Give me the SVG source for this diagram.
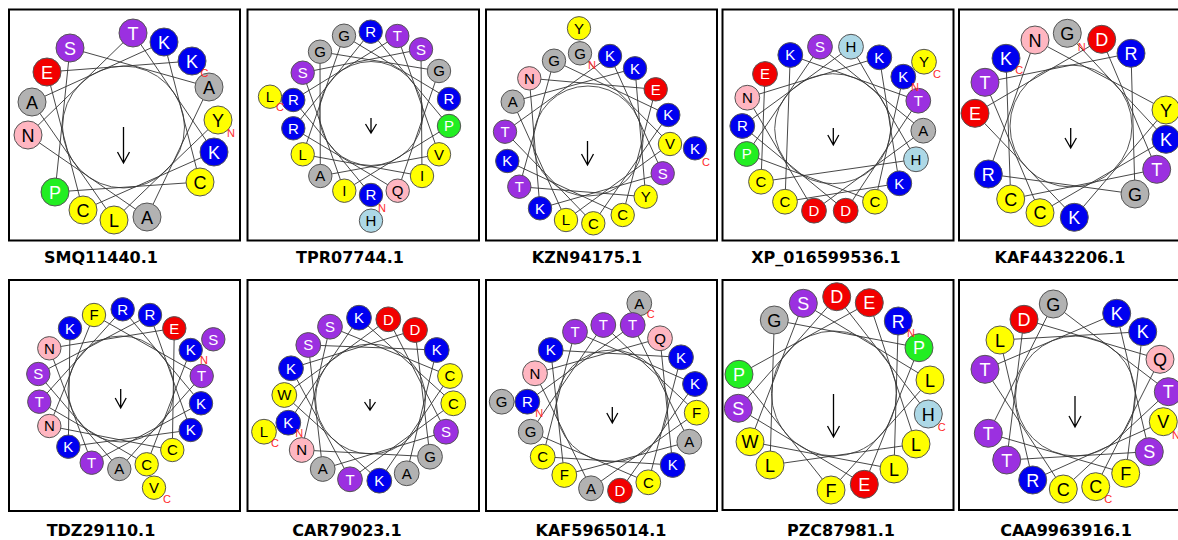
<svg xmlns="http://www.w3.org/2000/svg" width="1178" height="540" viewBox="0 0 1178 540">
<style>
.frame{fill:none;stroke:#000;stroke-width:2}
.ring{fill:none;stroke:#555;stroke-width:1}
.links line{stroke:#333;stroke-width:0.9}
.arrow{fill:none;stroke:#000;stroke-width:1.3}
.res circle{stroke:#555;stroke-width:1}
.res text{font-family:"Liberation Sans",Arial,sans-serif;font-size:18px;text-anchor:middle}
.sm .res text{font-size:15px}
.y circle{fill:#ffff00}.y text{fill:#000}
.b circle{fill:#0000f0}.b text{fill:#fff}
.r circle{fill:#f20000}.r text{fill:#fff}
.p circle{fill:#9b30e0}.p text{fill:#fff}
.g circle{fill:#b2b2b2}.g text{fill:#000}
.k circle{fill:#ffb6c1}.k text{fill:#000}
.n circle{fill:#22ee22}.n text{fill:#fff}
.l circle{fill:#add8e6}.l text{fill:#000}
.term{font-family:"Liberation Sans",Arial,sans-serif;font-size:11px;fill:#ff2a2a;text-anchor:middle}
.cap{font-family:"DejaVu Sans",Verdana,sans-serif;font-weight:bold;font-size:16px;text-anchor:middle;fill:#000}
</style>
<rect width="1178" height="540" fill="#fff"/>

<!-- SMQ11440.1 -->
<g id="SMQ11440">
<rect class="frame" x="9" y="9.5" width="231" height="231"/>
<circle class="ring" cx="123.5" cy="127" r="61"/>
<g id="SMQ11440-links" class="links">
<line x1="218" y1="120" x2="114" y2="220"/><line x1="114" y1="220" x2="32" y2="102"/><line x1="32" y1="102" x2="164" y2="42"/><line x1="164" y1="42" x2="200" y2="182"/><line x1="200" y1="182" x2="55" y2="192"/><line x1="55" y1="192" x2="70" y2="48"/><line x1="70" y1="48" x2="209" y2="87"/><line x1="209" y1="87" x2="147" y2="217"/><line x1="147" y1="217" x2="28" y2="135"/><line x1="28" y1="135" x2="133" y2="33"/><line x1="133" y1="33" x2="214" y2="152"/><line x1="214" y1="152" x2="83" y2="210"/><line x1="83" y1="210" x2="47" y2="72"/><line x1="47" y1="72" x2="192" y2="61"/>
</g>
<path class="arrow" d="M123.5 127V163M117.5 152L123.5 163L129.5 152"/>
<g id="SMQ11440-r0" class="res y" transform="translate(218 120)"><circle r="14"/><text y="6.5">Y</text></g>
<g id="SMQ11440-r1" class="res y" transform="translate(114 220)"><circle r="14"/><text y="6.5">L</text></g>
<g id="SMQ11440-r2" class="res g" transform="translate(32 102)"><circle r="14"/><text y="6.5">A</text></g>
<g id="SMQ11440-r3" class="res b" transform="translate(164 42)"><circle r="14"/><text y="6.5">K</text></g>
<g id="SMQ11440-r4" class="res y" transform="translate(200 182)"><circle r="14"/><text y="6.5">C</text></g>
<g id="SMQ11440-r5" class="res n" transform="translate(55 192)"><circle r="14"/><text y="6.5">P</text></g>
<g id="SMQ11440-r6" class="res p" transform="translate(70 48)"><circle r="14"/><text y="6.5">S</text></g>
<g id="SMQ11440-r7" class="res g" transform="translate(209 87)"><circle r="14"/><text y="6.5">A</text></g>
<g id="SMQ11440-r8" class="res g" transform="translate(147 217)"><circle r="14"/><text y="6.5">A</text></g>
<g id="SMQ11440-r9" class="res k" transform="translate(28 135)"><circle r="14"/><text y="6.5">N</text></g>
<g id="SMQ11440-r10" class="res p" transform="translate(133 33)"><circle r="14"/><text y="6.5">T</text></g>
<g id="SMQ11440-r11" class="res b" transform="translate(214 152)"><circle r="14"/><text y="6.5">K</text></g>
<g id="SMQ11440-r12" class="res y" transform="translate(83 210)"><circle r="14"/><text y="6.5">C</text></g>
<g id="SMQ11440-r13" class="res r" transform="translate(47 72)"><circle r="14"/><text y="6.5">E</text></g>
<g id="SMQ11440-r14" class="res b" transform="translate(192 61)"><circle r="14"/><text y="6.5">K</text></g>
<text class="term" x="231" y="137">N</text><text class="term" x="204.5" y="77">C</text>
<text class="cap" x="101" y="263">SMQ11440.1</text>
</g>

<!-- TPR07744.1 -->
<g id="TPR07744" class="sm">
<rect class="frame" x="247.5" y="9.5" width="231.5" height="231"/>
<circle class="ring" cx="371" cy="113.5" r="52"/>
<g id="TPR07744-links" class="links">
<line x1="371" y1="195" x2="293.3" y2="100"/><line x1="293.3" y1="100" x2="397.3" y2="36"/><line x1="397.3" y1="36" x2="439" y2="154.3"/><line x1="439" y1="154.3" x2="320.3" y2="176"/><line x1="320.3" y1="176" x2="320" y2="51.7"/><line x1="320" y1="51.7" x2="439" y2="71"/><line x1="439" y1="71" x2="397.7" y2="190.7"/><line x1="397.7" y1="190.7" x2="293.3" y2="128.3"/><line x1="293.3" y1="128.3" x2="370.7" y2="31.7"/><line x1="370.7" y1="31.7" x2="449" y2="126"/><line x1="449" y1="126" x2="344.3" y2="190.7"/><line x1="344.3" y1="190.7" x2="302.7" y2="72.7"/><line x1="302.7" y1="72.7" x2="421" y2="49.3"/><line x1="421" y1="49.3" x2="422" y2="176"/><line x1="422" y1="176" x2="302.7" y2="154.3"/><line x1="302.7" y1="154.3" x2="344" y2="35.7"/><line x1="344" y1="35.7" x2="449" y2="99"/>
</g>
<path class="arrow" d="M371 118V133M365.5 124L371 133L376.5 124"/>
<g id="TPR07744-r18" class="res l" transform="translate(371 220.7)"><circle r="11.7"/><text y="5.3">H</text></g>
<g id="TPR07744-r19" class="res y" transform="translate(270 96.7)"><circle r="11.7"/><text y="5.3">L</text></g>
<g id="TPR07744-r0" class="res b" transform="translate(371 195)"><circle r="11.7"/><text y="5.3">R</text></g>
<g id="TPR07744-r1" class="res b" transform="translate(293.3 100)"><circle r="11.7"/><text y="5.3">R</text></g>
<g id="TPR07744-r2" class="res p" transform="translate(397.3 36)"><circle r="11.7"/><text y="5.3">T</text></g>
<g id="TPR07744-r3" class="res y" transform="translate(439 154.3)"><circle r="11.7"/><text y="5.3">V</text></g>
<g id="TPR07744-r4" class="res g" transform="translate(320.3 176)"><circle r="11.7"/><text y="5.3">A</text></g>
<g id="TPR07744-r5" class="res g" transform="translate(320 51.7)"><circle r="11.7"/><text y="5.3">G</text></g>
<g id="TPR07744-r6" class="res g" transform="translate(439 71)"><circle r="11.7"/><text y="5.3">G</text></g>
<g id="TPR07744-r7" class="res k" transform="translate(397.7 190.7)"><circle r="11.7"/><text y="5.3">Q</text></g>
<g id="TPR07744-r8" class="res b" transform="translate(293.3 128.3)"><circle r="11.7"/><text y="5.3">R</text></g>
<g id="TPR07744-r9" class="res b" transform="translate(370.7 31.7)"><circle r="11.7"/><text y="5.3">R</text></g>
<g id="TPR07744-r10" class="res n" transform="translate(449 126)"><circle r="11.7"/><text y="5.3">P</text></g>
<g id="TPR07744-r11" class="res y" transform="translate(344.3 190.7)"><circle r="11.7"/><text y="5.3">I</text></g>
<g id="TPR07744-r12" class="res p" transform="translate(302.7 72.7)"><circle r="11.7"/><text y="5.3">S</text></g>
<g id="TPR07744-r13" class="res p" transform="translate(421 49.3)"><circle r="11.7"/><text y="5.3">S</text></g>
<g id="TPR07744-r14" class="res y" transform="translate(422 176)"><circle r="11.7"/><text y="5.3">I</text></g>
<g id="TPR07744-r15" class="res y" transform="translate(302.7 154.3)"><circle r="11.7"/><text y="5.3">L</text></g>
<g id="TPR07744-r16" class="res g" transform="translate(344 35.7)"><circle r="11.7"/><text y="5.3">G</text></g>
<g id="TPR07744-r17" class="res b" transform="translate(449 99)"><circle r="11.7"/><text y="5.3">R</text></g>
<text class="term" x="382" y="212">N</text><text class="term" x="280" y="111">C</text>
<text class="cap" x="350" y="263">TPR07744.1</text>
</g>

<!-- KZN94175.1 -->
<g id="KZN94175" class="sm">
<rect class="frame" x="486" y="9.5" width="231" height="231"/>
<circle class="ring" cx="588" cy="141" r="55"/>
<g id="KZN94175-links" class="links">
<line x1="580" y1="53.3" x2="670" y2="144"/><line x1="670" y1="144" x2="566" y2="220"/><line x1="566" y1="220" x2="512.7" y2="101.7"/><line x1="512.7" y1="101.7" x2="635" y2="68.3"/><line x1="635" y1="68.3" x2="645.7" y2="196.7"/><line x1="645.7" y1="196.7" x2="519.3" y2="186.7"/><line x1="519.3" y1="186.7" x2="554" y2="60.7"/><line x1="554" y1="60.7" x2="668.3" y2="115"/><line x1="668.3" y1="115" x2="593.3" y2="223.3"/><line x1="593.3" y1="223.3" x2="505" y2="131.7"/><line x1="505" y1="131.7" x2="610" y2="56"/><line x1="610" y1="56" x2="662.7" y2="173.3"/><line x1="662.7" y1="173.3" x2="540" y2="208.3"/><line x1="540" y1="208.3" x2="529.3" y2="78.3"/><line x1="529.3" y1="78.3" x2="655.7" y2="89.3"/><line x1="655.7" y1="89.3" x2="622.7" y2="215"/><line x1="622.7" y1="215" x2="507.3" y2="161"/>
</g>
<path class="arrow" d="M587.5 141V165M581.5 154L587.5 165L593.5 154"/>
<g id="KZN94175-r18" class="res y" transform="translate(579 28.3)"><circle r="11.7"/><text y="5.3">Y</text></g>
<g id="KZN94175-r19" class="res b" transform="translate(695 148.3)"><circle r="11.7"/><text y="5.3">K</text></g>
<g id="KZN94175-r0" class="res g" transform="translate(580 53.3)"><circle r="11.7"/><text y="5.3">G</text></g>
<g id="KZN94175-r1" class="res y" transform="translate(670 144)"><circle r="11.7"/><text y="5.3">V</text></g>
<g id="KZN94175-r2" class="res y" transform="translate(566 220)"><circle r="11.7"/><text y="5.3">L</text></g>
<g id="KZN94175-r3" class="res g" transform="translate(512.7 101.7)"><circle r="11.7"/><text y="5.3">A</text></g>
<g id="KZN94175-r4" class="res b" transform="translate(635 68.3)"><circle r="11.7"/><text y="5.3">K</text></g>
<g id="KZN94175-r5" class="res y" transform="translate(645.7 196.7)"><circle r="11.7"/><text y="5.3">Y</text></g>
<g id="KZN94175-r6" class="res p" transform="translate(519.3 186.7)"><circle r="11.7"/><text y="5.3">T</text></g>
<g id="KZN94175-r7" class="res g" transform="translate(554 60.7)"><circle r="11.7"/><text y="5.3">G</text></g>
<g id="KZN94175-r8" class="res b" transform="translate(668.3 115)"><circle r="11.7"/><text y="5.3">K</text></g>
<g id="KZN94175-r9" class="res y" transform="translate(593.3 223.3)"><circle r="11.7"/><text y="5.3">C</text></g>
<g id="KZN94175-r10" class="res p" transform="translate(505 131.7)"><circle r="11.7"/><text y="5.3">T</text></g>
<g id="KZN94175-r11" class="res b" transform="translate(610 56)"><circle r="11.7"/><text y="5.3">K</text></g>
<g id="KZN94175-r12" class="res p" transform="translate(662.7 173.3)"><circle r="11.7"/><text y="5.3">S</text></g>
<g id="KZN94175-r13" class="res b" transform="translate(540 208.3)"><circle r="11.7"/><text y="5.3">K</text></g>
<g id="KZN94175-r14" class="res k" transform="translate(529.3 78.3)"><circle r="11.7"/><text y="5.3">N</text></g>
<g id="KZN94175-r15" class="res r" transform="translate(655.7 89.3)"><circle r="11.7"/><text y="5.3">E</text></g>
<g id="KZN94175-r16" class="res y" transform="translate(622.7 215)"><circle r="11.7"/><text y="5.3">C</text></g>
<g id="KZN94175-r17" class="res b" transform="translate(507.3 161)"><circle r="11.7"/><text y="5.3">K</text></g>
<text class="term" x="592" y="69">N</text><text class="term" x="706" y="166">C</text>
<text class="cap" x="587" y="263">KZN94175.1</text>
</g>

<!-- XP_016599536.1 -->
<g id="XP_016599536" class="sm">
<rect class="frame" x="722.5" y="9.5" width="231" height="231"/>
<ellipse class="ring" cx="832.7" cy="128.7" rx="58" ry="55"/>
<g id="XP_016599536-links" class="links">
<line x1="903.3" y1="76.7" x2="875" y2="201.7"/><line x1="875" y1="201.7" x2="746.7" y2="154"/><line x1="746.7" y1="154" x2="820" y2="46.7"/><line x1="820" y1="46.7" x2="923.3" y2="130.7"/><line x1="923.3" y1="130.7" x2="814" y2="210.7"/><line x1="814" y1="210.7" x2="747.3" y2="97.7"/><line x1="747.3" y1="97.7" x2="879.3" y2="57.3"/><line x1="879.3" y1="57.3" x2="899.3" y2="183.3"/><line x1="899.3" y1="183.3" x2="785" y2="201.7"/><line x1="785" y1="201.7" x2="790.3" y2="55"/><line x1="790.3" y1="55" x2="918.3" y2="100.7"/><line x1="918.3" y1="100.7" x2="845.7" y2="210.7"/><line x1="845.7" y1="210.7" x2="742.3" y2="126"/><line x1="742.3" y1="126" x2="851" y2="46.7"/><line x1="851" y1="46.7" x2="916" y2="159.3"/><line x1="916" y1="159.3" x2="761" y2="181.7"/><line x1="761" y1="181.7" x2="765" y2="74"/>
</g>
<path class="arrow" d="M833.3 128V145M827.8 135L833.3 145L838.8 135"/>
<g id="XP_016599536-r18" class="res y" transform="translate(924 61.7)"><circle r="12.4"/><text y="5.4">Y</text></g>
<g id="XP_016599536-r0" class="res b" transform="translate(903.3 76.7)"><circle r="12.4"/><text y="5.4">K</text></g>
<g id="XP_016599536-r1" class="res y" transform="translate(875 201.7)"><circle r="12.4"/><text y="5.4">C</text></g>
<g id="XP_016599536-r2" class="res n" transform="translate(746.7 154)"><circle r="12.4"/><text y="5.4">P</text></g>
<g id="XP_016599536-r3" class="res p" transform="translate(820 46.7)"><circle r="12.4"/><text y="5.4">S</text></g>
<g id="XP_016599536-r4" class="res g" transform="translate(923.3 130.7)"><circle r="12.4"/><text y="5.4">A</text></g>
<g id="XP_016599536-r5" class="res r" transform="translate(814 210.7)"><circle r="12.4"/><text y="5.4">D</text></g>
<g id="XP_016599536-r6" class="res k" transform="translate(747.3 97.7)"><circle r="12.4"/><text y="5.4">N</text></g>
<g id="XP_016599536-r7" class="res b" transform="translate(879.3 57.3)"><circle r="12.4"/><text y="5.4">K</text></g>
<g id="XP_016599536-r8" class="res b" transform="translate(899.3 183.3)"><circle r="12.4"/><text y="5.4">K</text></g>
<g id="XP_016599536-r9" class="res y" transform="translate(785 201.7)"><circle r="12.4"/><text y="5.4">C</text></g>
<g id="XP_016599536-r10" class="res b" transform="translate(790.3 55)"><circle r="12.4"/><text y="5.4">K</text></g>
<g id="XP_016599536-r11" class="res p" transform="translate(918.3 100.7)"><circle r="12.4"/><text y="5.4">T</text></g>
<g id="XP_016599536-r12" class="res r" transform="translate(845.7 210.7)"><circle r="12.4"/><text y="5.4">D</text></g>
<g id="XP_016599536-r13" class="res b" transform="translate(742.3 126)"><circle r="12.4"/><text y="5.4">R</text></g>
<g id="XP_016599536-r14" class="res l" transform="translate(851 46.7)"><circle r="12.4"/><text y="5.4">H</text></g>
<g id="XP_016599536-r15" class="res l" transform="translate(916 159.3)"><circle r="12.4"/><text y="5.4">H</text></g>
<g id="XP_016599536-r16" class="res y" transform="translate(761 181.7)"><circle r="12.4"/><text y="5.4">C</text></g>
<g id="XP_016599536-r17" class="res r" transform="translate(765 74)"><circle r="12.4"/><text y="5.4">E</text></g>
<text class="term" x="915" y="91">N</text><text class="term" x="937" y="78">C</text>
<text class="cap" x="826" y="263">XP_016599536.1</text>
</g>

<!-- KAF4432206.1 -->
<g id="KAF4432206">
<rect class="frame" x="959" y="9.5" width="231" height="231"/>
<circle class="ring" cx="1071" cy="126" r="61"/>
<g id="KAF4432206-links" class="links">
<line x1="1067.3" y1="33.3" x2="1166" y2="139.3"/><line x1="1166" y1="139.3" x2="1040" y2="212.7"/><line x1="1040" y1="212.7" x2="985" y2="82.3"/><line x1="985" y1="82.3" x2="1131" y2="53.3"/><line x1="1131" y1="53.3" x2="1135" y2="194"/><line x1="1135" y1="194" x2="988.3" y2="174"/><line x1="988.3" y1="174" x2="1035" y2="40"/><line x1="1035" y1="40" x2="1166" y2="110"/><line x1="1166" y1="110" x2="1074.3" y2="217.3"/><line x1="1074.3" y1="217.3" x2="975" y2="113.3"/><line x1="975" y1="113.3" x2="1101.7" y2="39.3"/><line x1="1101.7" y1="39.3" x2="1156.7" y2="169.3"/><line x1="1156.7" y1="169.3" x2="1010.7" y2="199"/><line x1="1010.7" y1="199" x2="1006" y2="58.3"/>
</g>
<path class="arrow" d="M1070.7 128V148M1065 138L1070.7 148L1076.4 138"/>
<g id="KAF4432206-r0" class="res g" transform="translate(1067.3 33.3)"><circle r="14"/><text y="6.5">G</text></g>
<g id="KAF4432206-r1" class="res b" transform="translate(1166 139.3)"><circle r="14"/><text y="6.5">K</text></g>
<g id="KAF4432206-r2" class="res y" transform="translate(1040 212.7)"><circle r="14"/><text y="6.5">C</text></g>
<g id="KAF4432206-r3" class="res p" transform="translate(985 82.3)"><circle r="14"/><text y="6.5">T</text></g>
<g id="KAF4432206-r4" class="res b" transform="translate(1131 53.3)"><circle r="14"/><text y="6.5">R</text></g>
<g id="KAF4432206-r5" class="res g" transform="translate(1135 194)"><circle r="14"/><text y="6.5">G</text></g>
<g id="KAF4432206-r6" class="res b" transform="translate(988.3 174)"><circle r="14"/><text y="6.5">R</text></g>
<g id="KAF4432206-r7" class="res k" transform="translate(1035 40)"><circle r="14"/><text y="6.5">N</text></g>
<g id="KAF4432206-r8" class="res y" transform="translate(1166 110)"><circle r="14"/><text y="6.5">Y</text></g>
<g id="KAF4432206-r9" class="res b" transform="translate(1074.3 217.3)"><circle r="14"/><text y="6.5">K</text></g>
<g id="KAF4432206-r10" class="res r" transform="translate(975 113.3)"><circle r="14"/><text y="6.5">E</text></g>
<g id="KAF4432206-r11" class="res r" transform="translate(1101.7 39.3)"><circle r="14"/><text y="6.5">D</text></g>
<g id="KAF4432206-r12" class="res p" transform="translate(1156.7 169.3)"><circle r="14"/><text y="6.5">T</text></g>
<g id="KAF4432206-r13" class="res y" transform="translate(1010.7 199)"><circle r="14"/><text y="6.5">C</text></g>
<g id="KAF4432206-r14" class="res b" transform="translate(1006 58.3)"><circle r="14"/><text y="6.5">K</text></g>
<text class="term" x="1081.7" y="51">N</text><text class="term" x="1019.3" y="74">C</text>
<text class="cap" x="1060" y="263">KAF4432206.1</text>
</g>

<!-- TDZ29110.1 -->
<g id="TDZ29110" class="sm">
<rect class="frame" x="9" y="280" width="231" height="231"/>
<circle class="ring" cx="121" cy="389" r="53"/>
<g id="TDZ29110-links" class="links">
<line x1="190.7" y1="350" x2="146.7" y2="464.3"/><line x1="146.7" y1="464.3" x2="39.3" y2="401.7"/><line x1="39.3" y1="401.7" x2="122.7" y2="309.3"/><line x1="122.7" y1="309.3" x2="201" y2="403.3"/><line x1="201" y1="403.3" x2="91.7" y2="462.7"/><line x1="91.7" y1="462.7" x2="49.3" y2="348.3"/><line x1="49.3" y1="348.3" x2="174.3" y2="328.3"/><line x1="174.3" y1="328.3" x2="172.3" y2="450"/><line x1="172.3" y1="450" x2="49.3" y2="426"/><line x1="49.3" y1="426" x2="94" y2="315"/><line x1="94" y1="315" x2="201.7" y2="376"/><line x1="201.7" y1="376" x2="119.3" y2="469"/><line x1="119.3" y1="469" x2="38.3" y2="374"/><line x1="38.3" y1="374" x2="150" y2="315"/><line x1="150" y1="315" x2="190.7" y2="430"/><line x1="190.7" y1="430" x2="68.3" y2="446.7"/><line x1="68.3" y1="446.7" x2="70" y2="328.3"/>
</g>
<path class="arrow" d="M120.7 389V408M115.2 398L120.7 408L126.2 398"/>
<g id="TDZ29110-r18" class="res p" transform="translate(213.3 339.3)"><circle r="11.7"/><text y="5.3">S</text></g>
<g id="TDZ29110-r19" class="res y" transform="translate(154 487.7)"><circle r="11.7"/><text y="5.3">V</text></g>
<g id="TDZ29110-r0" class="res b" transform="translate(190.7 350)"><circle r="11.7"/><text y="5.3">K</text></g>
<g id="TDZ29110-r1" class="res y" transform="translate(146.7 464.3)"><circle r="11.7"/><text y="5.3">C</text></g>
<g id="TDZ29110-r2" class="res p" transform="translate(39.3 401.7)"><circle r="11.7"/><text y="5.3">T</text></g>
<g id="TDZ29110-r3" class="res b" transform="translate(122.7 309.3)"><circle r="11.7"/><text y="5.3">R</text></g>
<g id="TDZ29110-r4" class="res b" transform="translate(201 403.3)"><circle r="11.7"/><text y="5.3">K</text></g>
<g id="TDZ29110-r5" class="res p" transform="translate(91.7 462.7)"><circle r="11.7"/><text y="5.3">T</text></g>
<g id="TDZ29110-r6" class="res k" transform="translate(49.3 348.3)"><circle r="11.7"/><text y="5.3">N</text></g>
<g id="TDZ29110-r7" class="res r" transform="translate(174.3 328.3)"><circle r="11.7"/><text y="5.3">E</text></g>
<g id="TDZ29110-r8" class="res y" transform="translate(172.3 450)"><circle r="11.7"/><text y="5.3">C</text></g>
<g id="TDZ29110-r9" class="res k" transform="translate(49.3 426)"><circle r="11.7"/><text y="5.3">N</text></g>
<g id="TDZ29110-r10" class="res y" transform="translate(94 315)"><circle r="11.7"/><text y="5.3">F</text></g>
<g id="TDZ29110-r11" class="res p" transform="translate(201.7 376)"><circle r="11.7"/><text y="5.3">T</text></g>
<g id="TDZ29110-r12" class="res g" transform="translate(119.3 469)"><circle r="11.7"/><text y="5.3">A</text></g>
<g id="TDZ29110-r13" class="res p" transform="translate(38.3 374)"><circle r="11.7"/><text y="5.3">S</text></g>
<g id="TDZ29110-r14" class="res b" transform="translate(150 315)"><circle r="11.7"/><text y="5.3">R</text></g>
<g id="TDZ29110-r15" class="res b" transform="translate(190.7 430)"><circle r="11.7"/><text y="5.3">K</text></g>
<g id="TDZ29110-r16" class="res b" transform="translate(68.3 446.7)"><circle r="11.7"/><text y="5.3">K</text></g>
<g id="TDZ29110-r17" class="res b" transform="translate(70 328.3)"><circle r="11.7"/><text y="5.3">K</text></g>
<text class="term" x="204" y="364">N</text><text class="term" x="167" y="503">C</text>
<text class="cap" x="101" y="536">TDZ29110.1</text>
</g>

<!-- CAR79023.1 -->
<g id="CAR79023" class="sm">
<rect class="frame" x="247.5" y="280" width="231.5" height="231"/>
<circle class="ring" cx="370.5" cy="399" r="55"/>
<g id="CAR79023-links" class="links">
<line x1="288.3" y1="422.7" x2="359" y2="317.7"/><line x1="359" y1="317.7" x2="453.3" y2="403.3"/><line x1="453.3" y1="403.3" x2="350" y2="479.3"/><line x1="350" y1="479.3" x2="291" y2="368.3"/><line x1="291" y1="368.3" x2="415" y2="330"/><line x1="415" y1="330" x2="430" y2="456.7"/><line x1="430" y1="456.7" x2="301.7" y2="450"/><line x1="301.7" y1="450" x2="330" y2="326.7"/><line x1="330" y1="326.7" x2="450" y2="376"/><line x1="450" y1="376" x2="379.3" y2="480.7"/><line x1="379.3" y1="480.7" x2="284.3" y2="395"/><line x1="284.3" y1="395" x2="388.3" y2="319.3"/><line x1="388.3" y1="319.3" x2="446" y2="431.7"/><line x1="446" y1="431.7" x2="322.7" y2="469"/><line x1="322.7" y1="469" x2="308.3" y2="345"/><line x1="308.3" y1="345" x2="436.7" y2="350"/><line x1="436.7" y1="350" x2="406.7" y2="473.3"/>
</g>
<path class="arrow" d="M370 399V410M364.5 402L370 410L375.5 402"/>
<g id="CAR79023-r18" class="res y" transform="translate(264 431.7)"><circle r="12.4"/><text y="5.4">L</text></g>
<g id="CAR79023-r0" class="res b" transform="translate(288.3 422.7)"><circle r="12.4"/><text y="5.4">K</text></g>
<g id="CAR79023-r1" class="res b" transform="translate(359 317.7)"><circle r="12.4"/><text y="5.4">K</text></g>
<g id="CAR79023-r2" class="res y" transform="translate(453.3 403.3)"><circle r="12.4"/><text y="5.4">C</text></g>
<g id="CAR79023-r3" class="res p" transform="translate(350 479.3)"><circle r="12.4"/><text y="5.4">T</text></g>
<g id="CAR79023-r4" class="res b" transform="translate(291 368.3)"><circle r="12.4"/><text y="5.4">K</text></g>
<g id="CAR79023-r5" class="res r" transform="translate(415 330)"><circle r="12.4"/><text y="5.4">D</text></g>
<g id="CAR79023-r6" class="res g" transform="translate(430 456.7)"><circle r="12.4"/><text y="5.4">G</text></g>
<g id="CAR79023-r7" class="res k" transform="translate(301.7 450)"><circle r="12.4"/><text y="5.4">N</text></g>
<g id="CAR79023-r8" class="res p" transform="translate(330 326.7)"><circle r="12.4"/><text y="5.4">S</text></g>
<g id="CAR79023-r9" class="res y" transform="translate(450 376)"><circle r="12.4"/><text y="5.4">C</text></g>
<g id="CAR79023-r10" class="res b" transform="translate(379.3 480.7)"><circle r="12.4"/><text y="5.4">K</text></g>
<g id="CAR79023-r11" class="res y" transform="translate(284.3 395)"><circle r="12.4"/><text y="5.4">W</text></g>
<g id="CAR79023-r12" class="res r" transform="translate(388.3 319.3)"><circle r="12.4"/><text y="5.4">D</text></g>
<g id="CAR79023-r13" class="res p" transform="translate(446 431.7)"><circle r="12.4"/><text y="5.4">S</text></g>
<g id="CAR79023-r14" class="res g" transform="translate(322.7 469)"><circle r="12.4"/><text y="5.4">A</text></g>
<g id="CAR79023-r15" class="res p" transform="translate(308.3 345)"><circle r="12.4"/><text y="5.4">S</text></g>
<g id="CAR79023-r16" class="res b" transform="translate(436.7 350)"><circle r="12.4"/><text y="5.4">K</text></g>
<g id="CAR79023-r17" class="res g" transform="translate(406.7 473.3)"><circle r="12.4"/><text y="5.4">A</text></g>
<text class="term" x="299.3" y="437">N</text><text class="term" x="275" y="447">C</text>
<text class="cap" x="347" y="536">CAR79023.1</text>
</g>

<!-- KAF5965014.1 -->
<g id="KAF5965014" class="sm">
<rect class="frame" x="486" y="280" width="231" height="231"/>
<circle class="ring" cx="612" cy="406" r="56"/>
<g id="KAF5965014-links" class="links">
<line x1="527.3" y1="401.7" x2="632.7" y2="325"/><line x1="632.7" y1="325" x2="689.3" y2="441.7"/><line x1="689.3" y1="441.7" x2="564.3" y2="475"/><line x1="564.3" y1="475" x2="550.7" y2="350"/><line x1="550.7" y1="350" x2="681" y2="357.3"/><line x1="681" y1="357.3" x2="648.3" y2="482.3"/><line x1="648.3" y1="482.3" x2="530.7" y2="431.7"/><line x1="530.7" y1="431.7" x2="603.3" y2="325"/><line x1="603.3" y1="325" x2="696.7" y2="412.7"/><line x1="696.7" y1="412.7" x2="591" y2="488.3"/><line x1="591" y1="488.3" x2="535" y2="373.3"/><line x1="535" y1="373.3" x2="660" y2="338.3"/><line x1="660" y1="338.3" x2="672.7" y2="465"/><line x1="672.7" y1="465" x2="542.7" y2="456.7"/><line x1="542.7" y1="456.7" x2="575" y2="331.7"/><line x1="575" y1="331.7" x2="695" y2="384"/><line x1="695" y1="384" x2="620" y2="490.7"/>
</g>
<path class="arrow" d="M612.3 407V423M606.8 413L612.3 423L617.8 413"/>
<g id="KAF5965014-r18" class="res g" transform="translate(501.7 401.7)"><circle r="12.4"/><text y="5.4">G</text></g>
<g id="KAF5965014-r19" class="res g" transform="translate(639.3 303.3)"><circle r="12.4"/><text y="5.4">A</text></g>
<g id="KAF5965014-r0" class="res b" transform="translate(527.3 401.7)"><circle r="12.4"/><text y="5.4">R</text></g>
<g id="KAF5965014-r1" class="res p" transform="translate(632.7 325)"><circle r="12.4"/><text y="5.4">T</text></g>
<g id="KAF5965014-r2" class="res g" transform="translate(689.3 441.7)"><circle r="12.4"/><text y="5.4">A</text></g>
<g id="KAF5965014-r3" class="res y" transform="translate(564.3 475)"><circle r="12.4"/><text y="5.4">F</text></g>
<g id="KAF5965014-r4" class="res b" transform="translate(550.7 350)"><circle r="12.4"/><text y="5.4">K</text></g>
<g id="KAF5965014-r5" class="res b" transform="translate(681 357.3)"><circle r="12.4"/><text y="5.4">K</text></g>
<g id="KAF5965014-r6" class="res y" transform="translate(648.3 482.3)"><circle r="12.4"/><text y="5.4">C</text></g>
<g id="KAF5965014-r7" class="res g" transform="translate(530.7 431.7)"><circle r="12.4"/><text y="5.4">G</text></g>
<g id="KAF5965014-r8" class="res p" transform="translate(603.3 325)"><circle r="12.4"/><text y="5.4">T</text></g>
<g id="KAF5965014-r9" class="res y" transform="translate(696.7 412.7)"><circle r="12.4"/><text y="5.4">F</text></g>
<g id="KAF5965014-r10" class="res g" transform="translate(591 488.3)"><circle r="12.4"/><text y="5.4">A</text></g>
<g id="KAF5965014-r11" class="res k" transform="translate(535 373.3)"><circle r="12.4"/><text y="5.4">N</text></g>
<g id="KAF5965014-r12" class="res k" transform="translate(660 338.3)"><circle r="12.4"/><text y="5.4">Q</text></g>
<g id="KAF5965014-r13" class="res b" transform="translate(672.7 465)"><circle r="12.4"/><text y="5.4">K</text></g>
<g id="KAF5965014-r14" class="res y" transform="translate(542.7 456.7)"><circle r="12.4"/><text y="5.4">C</text></g>
<g id="KAF5965014-r15" class="res p" transform="translate(575 331.7)"><circle r="12.4"/><text y="5.4">T</text></g>
<g id="KAF5965014-r16" class="res b" transform="translate(695 384)"><circle r="12.4"/><text y="5.4">K</text></g>
<g id="KAF5965014-r17" class="res r" transform="translate(620 490.7)"><circle r="12.4"/><text y="5.4">D</text></g>
<text class="term" x="539.3" y="417">N</text><text class="term" x="650.7" y="318">C</text>
<text class="cap" x="601" y="536">KAF5965014.1</text>
</g>

<!-- PZC87981.1 -->
<g id="PZC87981">
<rect class="frame" x="722.5" y="280" width="231" height="230"/>
<circle class="ring" cx="834" cy="393.5" r="62.5"/>
<g id="PZC87981-links" class="links">
<line x1="898.3" y1="321" x2="894" y2="469"/><line x1="894" y1="469" x2="750" y2="441.7"/><line x1="750" y1="441.7" x2="803.3" y2="303.3"/><line x1="803.3" y1="303.3" x2="930" y2="380"/><line x1="930" y1="380" x2="831" y2="490"/><line x1="831" y1="490" x2="739" y2="374.3"/><line x1="739" y1="374.3" x2="869.3" y2="302.7"/><line x1="869.3" y1="302.7" x2="916" y2="444"/><line x1="916" y1="444" x2="770" y2="465"/><line x1="770" y1="465" x2="774.3" y2="320"/><line x1="774.3" y1="320" x2="919" y2="347.7"/><line x1="919" y1="347.7" x2="864.3" y2="484.3"/><line x1="864.3" y1="484.3" x2="738.3" y2="408.3"/><line x1="738.3" y1="408.3" x2="836.7" y2="296.7"/><line x1="836.7" y1="296.7" x2="928.3" y2="414"/>
</g>
<path class="arrow" d="M833.5 394V437M827.5 426L833.5 437L839.5 426"/>
<g id="PZC87981-r0" class="res b" transform="translate(898.3 321)"><circle r="14"/><text y="6.5">R</text></g>
<g id="PZC87981-r1" class="res y" transform="translate(894 469)"><circle r="14"/><text y="6.5">L</text></g>
<g id="PZC87981-r2" class="res y" transform="translate(750 441.7)"><circle r="14"/><text y="6.5">W</text></g>
<g id="PZC87981-r3" class="res p" transform="translate(803.3 303.3)"><circle r="14"/><text y="6.5">S</text></g>
<g id="PZC87981-r4" class="res y" transform="translate(930 380)"><circle r="14"/><text y="6.5">L</text></g>
<g id="PZC87981-r5" class="res y" transform="translate(831 490)"><circle r="14"/><text y="6.5">F</text></g>
<g id="PZC87981-r6" class="res n" transform="translate(739 374.3)"><circle r="14"/><text y="6.5">P</text></g>
<g id="PZC87981-r7" class="res r" transform="translate(869.3 302.7)"><circle r="14"/><text y="6.5">E</text></g>
<g id="PZC87981-r8" class="res y" transform="translate(916 444)"><circle r="14"/><text y="6.5">L</text></g>
<g id="PZC87981-r9" class="res y" transform="translate(770 465)"><circle r="14"/><text y="6.5">L</text></g>
<g id="PZC87981-r10" class="res g" transform="translate(774.3 320)"><circle r="14"/><text y="6.5">G</text></g>
<g id="PZC87981-r11" class="res n" transform="translate(919 347.7)"><circle r="14"/><text y="6.5">P</text></g>
<g id="PZC87981-r12" class="res r" transform="translate(864.3 484.3)"><circle r="14"/><text y="6.5">E</text></g>
<g id="PZC87981-r13" class="res p" transform="translate(738.3 408.3)"><circle r="14"/><text y="6.5">S</text></g>
<g id="PZC87981-r14" class="res r" transform="translate(836.7 296.7)"><circle r="14"/><text y="6.5">D</text></g>
<g id="PZC87981-r15" class="res l" transform="translate(928.3 414)"><circle r="14"/><text y="6.5">H</text></g>
<text class="term" x="911" y="337">N</text><text class="term" x="941.7" y="431">C</text>
<text class="cap" x="841" y="536">PZC87981.1</text>
</g>

<!-- CAA9963916.1 -->
<g id="CAA9963916">
<rect class="frame" x="959" y="280" width="231" height="230"/>
<circle class="ring" cx="1075.5" cy="396" r="60"/>
<g id="CAA9963916-links" class="links">
<line x1="1163.3" y1="421.7" x2="1032.7" y2="480"/><line x1="1032.7" y1="480" x2="1000" y2="340"/><line x1="1000" y1="340" x2="1142.7" y2="331.7"/><line x1="1142.7" y1="331.7" x2="1125.7" y2="473.3"/><line x1="1125.7" y1="473.3" x2="988.3" y2="433.3"/><line x1="988.3" y1="433.3" x2="1053.3" y2="304"/><line x1="1053.3" y1="304" x2="1168.3" y2="391.7"/><line x1="1168.3" y1="391.7" x2="1063.3" y2="489"/><line x1="1063.3" y1="489" x2="985" y2="369.3"/><line x1="985" y1="369.3" x2="1116.7" y2="313.3"/><line x1="1116.7" y1="313.3" x2="1149.3" y2="451.7"/><line x1="1149.3" y1="451.7" x2="1006.7" y2="460"/><line x1="1006.7" y1="460" x2="1024" y2="319.3"/><line x1="1024" y1="319.3" x2="1160" y2="359.3"/><line x1="1160" y1="359.3" x2="1095.7" y2="486.7"/>
</g>
<path class="arrow" d="M1075 396V427M1069 416L1075 427L1081 416"/>
<g id="CAA9963916-r0" class="res y" transform="translate(1163.3 421.7)"><circle r="14"/><text y="6.5">V</text></g>
<g id="CAA9963916-r1" class="res b" transform="translate(1032.7 480)"><circle r="14"/><text y="6.5">R</text></g>
<g id="CAA9963916-r2" class="res y" transform="translate(1000 340)"><circle r="14"/><text y="6.5">L</text></g>
<g id="CAA9963916-r3" class="res b" transform="translate(1142.7 331.7)"><circle r="14"/><text y="6.5">K</text></g>
<g id="CAA9963916-r4" class="res y" transform="translate(1125.7 473.3)"><circle r="14"/><text y="6.5">F</text></g>
<g id="CAA9963916-r5" class="res p" transform="translate(988.3 433.3)"><circle r="14"/><text y="6.5">T</text></g>
<g id="CAA9963916-r6" class="res g" transform="translate(1053.3 304)"><circle r="14"/><text y="6.5">G</text></g>
<g id="CAA9963916-r7" class="res p" transform="translate(1168.3 391.7)"><circle r="14"/><text y="6.5">T</text></g>
<g id="CAA9963916-r8" class="res y" transform="translate(1063.3 489)"><circle r="14"/><text y="6.5">C</text></g>
<g id="CAA9963916-r9" class="res p" transform="translate(985 369.3)"><circle r="14"/><text y="6.5">T</text></g>
<g id="CAA9963916-r10" class="res b" transform="translate(1116.7 313.3)"><circle r="14"/><text y="6.5">K</text></g>
<g id="CAA9963916-r11" class="res p" transform="translate(1149.3 451.7)"><circle r="14"/><text y="6.5">S</text></g>
<g id="CAA9963916-r12" class="res p" transform="translate(1006.7 460)"><circle r="14"/><text y="6.5">T</text></g>
<g id="CAA9963916-r13" class="res r" transform="translate(1024 319.3)"><circle r="14"/><text y="6.5">D</text></g>
<g id="CAA9963916-r14" class="res k" transform="translate(1160 359.3)"><circle r="14"/><text y="6.5">Q</text></g>
<g id="CAA9963916-r15" class="res y" transform="translate(1095.7 486.7)"><circle r="14"/><text y="6.5">C</text></g>
<text class="term" x="1176" y="439">N</text><text class="term" x="1108.3" y="503">C</text>
<text class="cap" x="1066" y="536">CAA9963916.1</text>
</g>
</svg>
